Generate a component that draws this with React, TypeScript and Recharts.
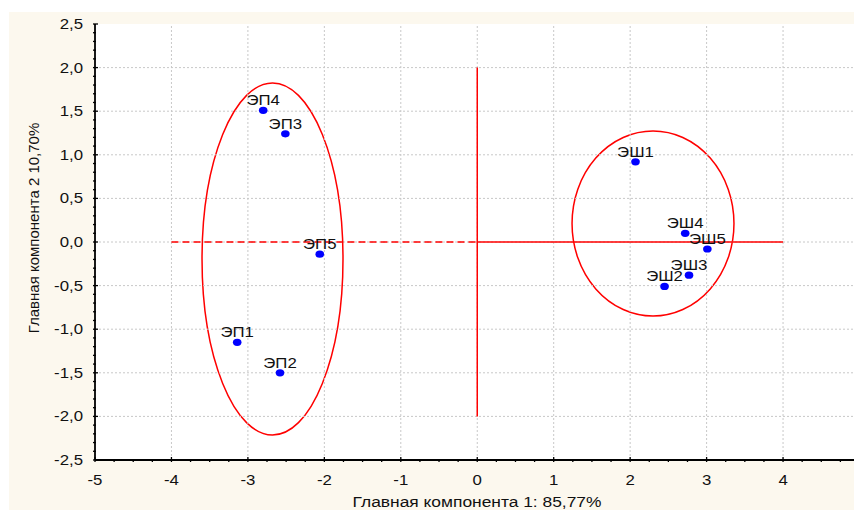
import {
  ScatterChart,
  Scatter,
  XAxis,
  YAxis,
  CartesianGrid,
  ReferenceLine,
  ReferenceArea,
} from 'recharts'

// PCA scores of the samples
const sampleNames = ['ЭП1', 'ЭП2', 'ЭП3', 'ЭП4', 'ЭП5', 'ЭШ1', 'ЭШ2', 'ЭШ3', 'ЭШ4', 'ЭШ5']
const pc1Scores = [-3.14, -2.58, -2.51, -2.8, -2.06, 2.07, 2.45, 2.77, 2.72, 3.01]
const pc2Scores = [-1.15, -1.5, 1.24, 1.51, -0.14, 0.92, -0.51, -0.38, 0.1, -0.08]

// cluster ellipses, as bounding boxes in score units
const clusterLeft = [-3.6, 1.24]
const clusterRight = [-1.756, 3.358]
const clusterBottom = [-2.213, -0.849]
const clusterTop = [1.823, 1.273]

const xTicks = [-5, -4, -3, -2, -1, 0, 1, 2, 3, 4, 5]
const xTickLabels = [-5, -4, -3, -2, -1, 0, 1, 2, 3, 4]
const yTicks = [-2.5, -2, -1.5, -1, -0.5, 0, 0.5, 1, 1.5, 2, 2.5]

const xTitle = 'Главная компонента 1: 85,77%'
const yTitle = 'Главная компонента 2 10,70%'

const data = sampleNames.map((name, i) => ({ name, x: pc1Scores[i], y: pc2Scores[i] }))

const xMinor = Array.from({ length: 41 }, (_, i) => Math.round((-5 + i * 0.25) * 100) / 100)
const yMinor = Array.from({ length: 51 }, (_, i) => Math.round((-2.5 + i * 0.1) * 100) / 100)

const FONT = "'Liberation Sans', Arial, sans-serif"
const RED = '#ff0000'
const GRID = '#c8c8c8'

const isWhole = (v: number, step: number) => Math.abs(v / step - Math.round(v / step)) < 1e-6

function WideText({ x, y, anchor = 'middle', size = 14, children }: any) {
  return (
    <text
      transform={`translate(${x} ${y}) scale(1.2 1)`}
      textAnchor={anchor}
      fontFamily={FONT}
      fontSize={size}
      fill="#111"
    >
      {children}
    </text>
  )
}

function XTick({ x, y, payload, side }: any) {
  const major = isWhole(payload.value, 1)
  const len = major ? 5 : 3
  const dir = side === 'top' ? 1 : -1
  return (
    <g>
      <line x1={x} x2={x} y1={y} y2={y + dir * len} stroke="#000" strokeWidth={1.3} />
      {side === 'bottom' && xTickLabels.includes(payload.value) && (
        <WideText x={x} y={y + 23}>
          {payload.value}
        </WideText>
      )}
    </g>
  )
}

function YTick({ x, y, payload }: any) {
  const major = isWhole(payload.value, 0.5)
  return (
    <g>
      <line x1={x} x2={x + (major ? 5 : 3)} y1={y} y2={y} stroke="#000" strokeWidth={1.3} />
      {major && (
        <WideText x={x - 10} y={y + 5} anchor="end">
          {payload.value.toFixed(1).replace('.', ',')}
        </WideText>
      )}
    </g>
  )
}

function Ellipse(props: any) {
  const { x, y, width, height } = props
  return (
    <ellipse
      cx={x + width / 2}
      cy={y + height / 2}
      rx={width / 2}
      ry={height / 2}
      fill="none"
      stroke={RED}
      strokeWidth={1.5}
    />
  )
}

function Dot(props: any) {
  const { cx, cy, payload } = props
  return (
    <g>
      <ellipse cx={cx} cy={cy} rx={4.3} ry={3.6} fill="#0000ff" />
      <WideText x={cx} y={cy - 5}>
        {payload.name}
      </WideText>
    </g>
  )
}

export default function App() {
  return (
    <div style={{ position: 'fixed', left: 0, top: 0, width: 854, height: 511, overflow: 'hidden', background: '#fff' }}>
      <div style={{ position: 'absolute', left: 9, top: 12, width: 880, height: 498, background: '#fcf8ee' }}>
        <ScatterChart width={880} height={498} margin={{ top: 12, right: 29.5, bottom: 20, left: 0 }}>
          <CartesianGrid fill="#ffffff" horizontal={false} vertical={false} />
          {xTicks.slice(1, -1).map((v) => (
            <ReferenceLine key={`gx${v}`} x={v} stroke={GRID} strokeDasharray="2 2" />
          ))}
          {yTicks.slice(1, -1).map((v) => (
            <ReferenceLine key={`gy${v}`} y={v} stroke={GRID} strokeDasharray="2 2" />
          ))}
          <XAxis
            dataKey="x"
            type="number"
            domain={[-5, 5]}
            ticks={xMinor}
            interval={0}
            height={30}
            tickSize={0}
            tickLine={false}
            axisLine={{ stroke: '#000', strokeWidth: 1.8 }}
            tick={(p: any) => <XTick {...p} side="bottom" />}
          />
          <XAxis
            xAxisId="top"
            orientation="top"
            type="number"
            domain={[-5, 5]}
            ticks={xMinor}
            interval={0}
            height={0}
            tickSize={0}
            tickLine={false}
            axisLine={{ stroke: '#000', strokeWidth: 1.8 }}
            tick={(p: any) => <XTick {...p} side="top" />}
          />
          <YAxis
            dataKey="y"
            type="number"
            domain={[-2.5, 2.5]}
            ticks={yMinor}
            interval={0}
            width={86}
            tickSize={0}
            tickLine={false}
            axisLine={{ stroke: '#000', strokeWidth: 1.8 }}
            tick={(p: any) => <YTick {...p} />}
          />
          {clusterLeft.map((x1, i) => (
            <ReferenceArea
              key={`c${i}`}
              x1={x1}
              x2={clusterRight[i]}
              y1={clusterBottom[i]}
              y2={clusterTop[i]}
              shape={(p: any) => <Ellipse {...p} />}
            />
          ))}
          <ReferenceLine segment={[{ x: -4, y: 0 }, { x: 0, y: 0 }]} stroke={RED} strokeWidth={1.5} strokeDasharray="7 4" />
          <ReferenceLine segment={[{ x: 0, y: 0 }, { x: 4, y: 0 }]} stroke={RED} strokeWidth={1.5} />
          <ReferenceLine segment={[{ x: 0, y: -2 }, { x: 0, y: 2 }]} stroke={RED} strokeWidth={1.5} />
          <Scatter data={data} isAnimationActive={false} shape={(p: any) => <Dot {...p} />} />
        </ScatterChart>
        <svg width={880} height={498} style={{ position: 'absolute', left: 0, top: 0, pointerEvents: 'none' }}>
          <text
            transform="translate(24 216) rotate(-90)"
            textAnchor="middle"
            dominantBaseline="central"
            fontFamily={FONT}
            fontSize={15}
            fill="#111"
          >
            {yTitle}
          </text>
          <WideText x={468} y={495} size={14.5}>
            {xTitle}
          </WideText>
        </svg>
      </div>
    </div>
  )
}
